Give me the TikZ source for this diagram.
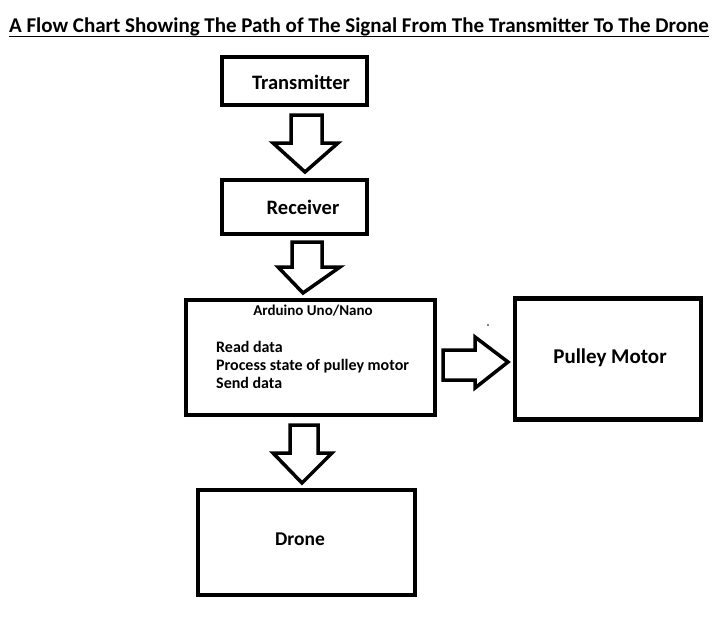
\documentclass[tikz,border=0pt]{standalone}
\usepackage{fontspec}
\setmainfont{Carlito}
\begin{document}
\begin{tikzpicture}[x=1pt,y=-1pt,
  box/.style={draw, line width=4.5pt, inner sep=0pt, fill=white},
  blockarrow/.style={draw, line width=3.5pt, line join=miter, fill=white},
  lbl/.style={font=\fontsize{20.5}{24}\selectfont\bfseries},
  small/.style={font=\fontsize{16}{19}\selectfont\bfseries, anchor=base west, inner sep=0pt}]
\useasboundingbox (0,0) rectangle (720,640);
% title
\node[font=\fontsize{21}{24}\selectfont\bfseries, inner sep=0pt, anchor=base] (title) at (359,32)
  {A Flow Chart Showing The Path of The Signal From The Transmitter To The Drone};
\draw[line width=1.8pt] ([yshift=-4.5pt]title.base west) -- ([yshift=-4.5pt]title.base east);
% boxes
\node[box, minimum width=145pt, minimum height=48pt] (tx) at (294.5,81) {};
\node[lbl] (txl) at (301,82) {Transmitter};
\node[box, minimum width=145pt, minimum height=54pt] (rx) at (294.5,207) {};
\node[lbl] (rxl) at (303,207) {Receiver};
\node[box, minimum width=249pt, minimum height=115pt] (ard) at (310.5,357.5) {};
\node[font=\fontsize{15}{18}\selectfont\bfseries, inner sep=0pt] (ardt) at (313,311) {Arduino Uno/Nano};
\node[small] (l1) at (216,352) {Read data};
\node[small] (l2) at (216,370) {Process state of pulley motor};
\node[small] (l3) at (216,388) {Send data};
\node[box, minimum width=186pt, minimum height=121pt] (pm) at (608,359) {};
\node[font=\fontsize{21}{24}\selectfont\bfseries] (pml) at (610,358) {Pulley Motor};
\node[box, minimum width=217pt, minimum height=105pt] (dr) at (306.5,542.5) {};
\node[font=\fontsize{19.5}{23}\selectfont\bfseries] (drl) at (300,539) {Drone};
% block arrows
\draw[blockarrow] (291,115) -- (322,115) -- (322,143) -- (338,143) -- (305,172)
  -- (273,143) -- (291,143) -- cycle;
\draw[blockarrow] (292,242) -- (322,242) -- (322,267) -- (340,267) -- (303,293)
  -- (278,267) -- (292,267) -- cycle;
\draw[blockarrow] (443,350) -- (475,350) -- (475,337) -- (508,362) -- (475,388)
  -- (475,380) -- (443,380) -- cycle;
\draw[blockarrow] (290,425) -- (318,425) -- (318,453) -- (332,453) -- (302,483)
  -- (273,453) -- (290,453) -- cycle;
\fill (488,325) circle (0.8pt);
\end{tikzpicture}
\end{document}
